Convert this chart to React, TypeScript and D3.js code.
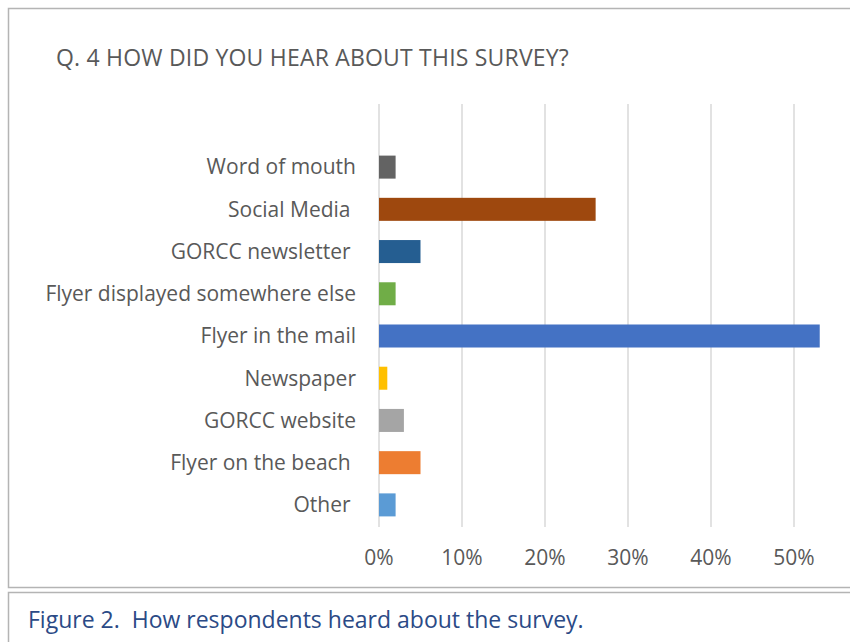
import React from "react";
import * as d3 from "d3";

const categories = [
  "Word of mouth",
  "Social Media ",
  "GORCC newsletter ",
  "Flyer displayed somewhere else",
  "Flyer in the mail",
  "Newspaper",
  "GORCC website",
  "Flyer on the beach ",
  "Other ",
];
const values = [0.02, 0.261, 0.05, 0.02, 0.531, 0.01, 0.03, 0.05, 0.02];
const colors = [
  "#636363",
  "#9E480E",
  "#255E91",
  "#70AD47",
  "#4472C4",
  "#FFC000",
  "#A5A5A5",
  "#ED7D31",
  "#5B9BD5",
];
const tickValues = [0, 0.1, 0.2, 0.3, 0.4, 0.5];
const title = "Q. 4 HOW DID YOU HEAR ABOUT THIS SURVEY?";
const caption = "Figure 2.  How respondents heard about the survey.";

const W = 850;
const H = 642;
const FONT = "'Open Sans', 'Noto Sans', sans-serif";

export default function App() {
  const x = d3.scaleLinear().domain([0, 0.5]).range([379, 794]);
  const y = d3
    .scaleBand<string>()
    .domain(categories)
    .range([146, 526])
    .paddingInner(0.455)
    .paddingOuter(0.2275);
  const fmt = d3.format(".0%");
  return (
    <svg
      width={W}
      height={H}
      style={{ position: "absolute", left: 0, top: 0, background: "#fff" }}
    >
      <rect x={8.5} y={8.5} width={W + 20} height={579} fill="#fff" stroke="#b4b4b4" strokeWidth={1.5} />
      <rect x={8.5} y={592.5} width={W + 20} height={80} fill="#fff" stroke="#b4b4b4" strokeWidth={1.5} />
      <text x={56} y={58} dy="0.35em" fontFamily={FONT} fontSize={23} letterSpacing={0.2} fill="#595959">
        {title}
      </text>
      {tickValues.map((t) => (
        <line key={t} x1={x(t)} x2={x(t)} y1={104} y2={527} stroke="#d9d9d9" strokeWidth={1.5} />
      ))}
      {categories.map((c, i) => (
        <rect key={c} x={x(0)} y={y(c)} width={x(values[i]) - x(0)} height={y.bandwidth()} fill={colors[i]} />
      ))}
      {categories.map((c) => (
        <text
          key={c}
          x={356}
          y={(y(c) as number) + y.bandwidth() / 2}
          dy="0.35em"
          textAnchor="end"
          fontFamily={FONT}
          fontSize={21}
          fill="#595959"
          style={{ whiteSpace: "pre" }}
        >
          {c}
        </text>
      ))}
      {tickValues.map((t) => (
        <text key={t} x={x(t)} y={558} dy="0.35em" textAnchor="middle" fontFamily={FONT} fontSize={21} fill="#595959">
          {fmt(t)}
        </text>
      ))}
      <text x={28} y={620} dy="0.35em" fontFamily={FONT} fontSize={23} fill="#2B4A86" style={{ whiteSpace: "pre" }}>
        {caption}
      </text>
    </svg>
  );
}
